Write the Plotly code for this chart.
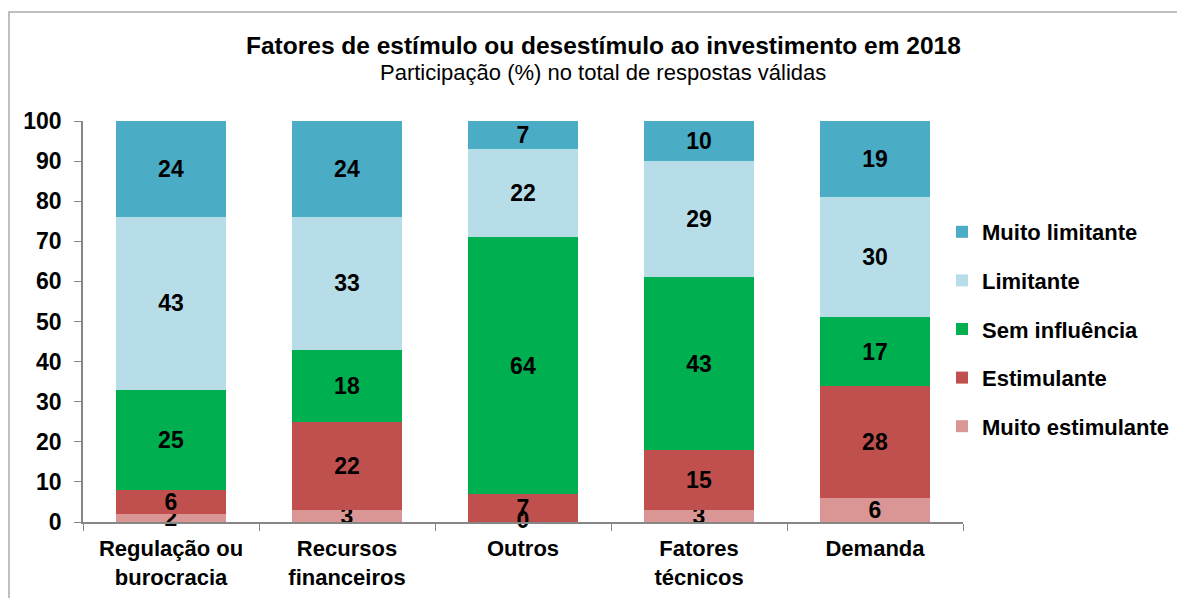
import plotly.graph_objects as go

categories = ["Regulação ou<br>burocracia", "Recursos<br>financeiros", "Outros", "Fatores<br>técnicos", "Demanda"]
muito_estimulante = [2, 3, 0, 3, 6]
estimulante = [6, 22, 7, 15, 28]
sem_influencia = [25, 18, 64, 43, 17]
limitante = [43, 33, 22, 29, 30]
muito_limitante = [24, 24, 7, 10, 19]
y_ticks = list(range(0, 101, 10))

series = [
    ("Muito estimulante", muito_estimulante, "#D99694"),
    ("Estimulante", estimulante, "#C0504D"),
    ("Sem influência", sem_influencia, "#00B050"),
    ("Limitante", limitante, "#B7DEE8"),
    ("Muito limitante", muito_limitante, "#4BACC6"),
]

FONT = "Arial, Liberation Sans, sans-serif"
LABEL_FONT = dict(family=FONT, size=23, color="black", weight="bold")
fig = go.Figure()
base = [0] * len(categories)
zero_x, zero_y = [], []
n = len(series)
for k, (name, vals, color) in enumerate(series):
    fig.add_trace(go.Bar(
        x=categories, y=vals, name=name, legendgroup=name, legendrank=n - k,
        marker=dict(color=color, line=dict(width=0)),
        text=[str(v) for v in vals], textposition="inside",
        insidetextanchor="middle", constraintext="none",
        textangle=0, textfont=LABEL_FONT,
        cliponaxis=False,
    ))
    for i, v in enumerate(vals):
        if v == 0:
            zero_x.append(categories[i])
            zero_y.append(base[i])
        base[i] += v

# labels for zero-height segments (Plotly hides text of empty bars)
fig.add_trace(go.Scatter(
    x=zero_x, y=zero_y, mode="text", text=["0"] * len(zero_x),
    textposition="middle center", textfont=LABEL_FONT,
    showlegend=False, hoverinfo="skip", cliponaxis=False,
))

# page has an 8px body margin; work in figure pixels
W, H = 1177, 590
L, R, T, B = 75, 222, 113, 76
pw, ph = W - L - R, H - T - B

def px_x(x):
    return (x - L) / pw

def px_y(y):
    return 1 - (y - T) / ph

fig.update_layout(
    width=W, height=H,
    margin=dict(l=L, r=R, t=T, b=B, autoexpand=False),
    barmode="stack", bargap=0.375,
    plot_bgcolor="white", paper_bgcolor="white",
    font=dict(family=FONT, color="black"),
    showlegend=True,
    legend=dict(
        x=px_x(934), xanchor="left", y=px_y(203), yanchor="top",
        traceorder="grouped", tracegroupgap=17,
        font=dict(family=FONT, size=22, color="black", weight="bold"),
        itemwidth=30, bgcolor="rgba(0,0,0,0)",
    ),
    xaxis=dict(
        showline=True, linecolor="#868686", linewidth=1.5,
        ticks="outside", tickson="boundaries", ticklen=7, tickcolor="#868686",
        tickfont=dict(family=FONT, size=22, color="black", weight="bold"),
        ticklabelstandoff=6,
        showgrid=False, zeroline=False,
    ),
    yaxis=dict(
        range=[0, 100], tickvals=y_ticks,
        showline=True, linecolor="#868686", linewidth=1.5,
        ticks="outside", ticklen=7, tickcolor="#868686",
        tickfont=dict(family=FONT, size=23, color="black", weight="bold"),
        ticklabelstandoff=8,
        showgrid=False, zeroline=False,
    ),
    annotations=[
        dict(text="<b>Fatores de estímulo ou desestímulo ao investimento em 2018</b>",
             xref="paper", yref="paper", x=px_x(595), y=px_y(37),
             xanchor="center", yanchor="middle", showarrow=False,
             font=dict(family=FONT, size=24.5, color="black")),
        dict(text="Participação (%) no total de respostas válidas",
             xref="paper", yref="paper", x=px_x(595), y=px_y(65),
             xanchor="center", yanchor="middle", showarrow=False,
             font=dict(family=FONT, size=22, color="black")),
    ],
    shapes=[
        dict(type="rect", xref="paper", yref="paper",
             x0=px_x(1), x1=px_x(1260), y0=px_y(4), y1=px_y(700),
             line=dict(color="#BFBFBF", width=2), fillcolor="rgba(0,0,0,0)", layer="below"),
    ],
)

fig.write_html("out.html")
